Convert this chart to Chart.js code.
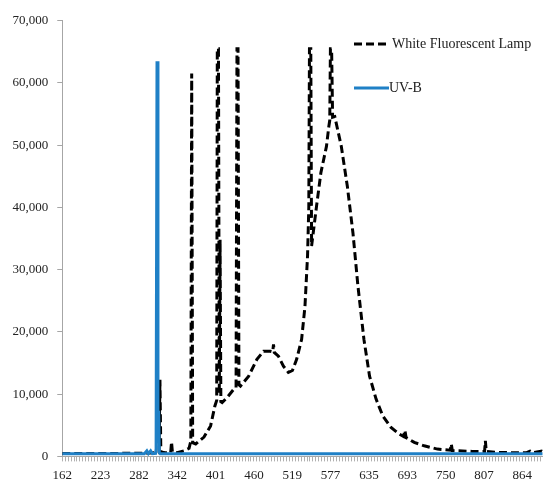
<!DOCTYPE html>
<html>
<head>
<meta charset="utf-8">
<script src="https://cdn.jsdelivr.net/npm/chart.js@4.4.1/dist/chart.umd.min.js"></script>
<style>
  html, body { margin: 0; padding: 0; background: #fff; overflow: hidden; }
  #wrap { width: 546px; height: 489px; }
</style>
</head>
<body>
<div id="wrap"><canvas id="specChart" width="546" height="489"></canvas></div>
<script>
// Spectrum of a white fluorescent lamp and a UV-B lamp (wavelength in nm, counts)

// x axis category labels (wavelength, nm) shown every 13 minor ticks
const xTickLabels = [162, 223, 282, 342, 401, 460, 519, 577, 635, 693, 750, 807, 864];
const MINOR = 13;
const xEndNm = 894.3;

// White Fluorescent Lamp
const lampNm = [162, 290.5, 313.5, 314.9, 316.3, 323.2, 331.7, 333.0, 334.4, 341.8,
  352.5, 360.2, 362.9, 364.2, 365.7, 370.4, 383.1, 393.3, 399.9, 402.7,
  403.6, 405.4, 406.7, 407.9, 409.1, 411.1, 419.8, 429.0, 432.5, 433.9,
  435.5, 436.9, 439.2, 451.9, 464.6, 474.8, 485.1, 488.9, 490.1, 491.3,
  497.7, 505.4, 513.0, 519.2, 525.6, 533.1, 538.2, 542.1, 544.0, 545.0,
  547.0, 548.2, 555.7, 562.3, 570.7, 574.3, 575.7, 576.7, 578.5, 580.0,
  583.3, 593.2, 602.3, 610.8, 618.3, 627.4, 635.9, 645.8, 655.9, 668.4,
  681.0, 687.2, 689.4, 691.2, 693.4, 703.3, 718.1, 737.8, 756.9, 758.4,
  759.9, 767.3, 789.4, 807.9, 809.1, 810.4, 826.3, 848.5, 870.6, 875.5,
  879.5, 892.8, 894.3];
const lampCounts = [450, 500, 600, 12300, 700, 600, 600, 2300, 700, 600,
  900, 1300, 2500, 61500, 2200, 2000, 3100, 4900, 8100, 9000,
  65500, 65500, 10000, 34800, 8800, 8650, 9600, 10800, 11000, 65500,
  65500, 11500, 11300, 12900, 15600, 16900, 16900, 16800, 18000, 16700,
  16100, 14500, 13500, 13800, 15600, 18800, 24100, 32200, 40000, 65500,
  65500, 33800, 40200, 45600, 49800, 53000, 54000, 65500, 65500, 54500,
  54600, 49800, 43400, 35900, 27400, 18800, 12900, 9200, 6500, 4650,
  3580, 3200, 4200, 3000, 2900, 2250, 1700, 1170, 1000, 2000,
  950, 900, 800, 800, 2500, 800, 650, 600, 600, 850,
  600, 850, 700];

// UV-B lamp
const uvbNm = [162, 290.5, 294.4, 296.8, 300.3, 303.0, 308.1, 308.9, 310.3, 311.8, 312.9, 313.9, 315.4, 894.3];
const uvbCounts = [420, 420, 900, 450, 900, 450, 500, 1200, 63500, 7100, 7100, 600, 420, 420];

// place a wavelength on the evenly spaced category axis (minor tick units)
function nmToPos(nm) {
  const n = xTickLabels.length;
  let k = 0;
  while (k < n - 2 && nm > xTickLabels[k + 1]) k++;
  const span = xTickLabels[k + 1] - xTickLabels[k];
  return (k + (nm - xTickLabels[k]) / span) * MINOR;
}

function toPoints(nms, counts) {
  return nms.map((nm, i) => ({ x: nmToPos(nm), y: counts[i] }));
}

const legendPlugin = {
  id: 'cornerLegend',
  afterDraw(chart) {
    const ctx = chart.ctx;
    ctx.save();
    chart.data.datasets.forEach((ds, i) => {
      const y = 44 + i * 44;
      ctx.beginPath();
      ctx.lineWidth = ds.borderWidth;
      ctx.strokeStyle = ds.borderColor;
      ctx.setLineDash(ds.borderDash || []);
      ctx.moveTo(354, y);
      ctx.lineTo(ds.borderDash ? 386 : 389, y);
      ctx.stroke();
      ctx.setLineDash([]);
      ctx.fillStyle = '#222';
      ctx.font = '14px "Liberation Serif", serif';
      ctx.textBaseline = 'middle';
      ctx.fillText(ds.label, ds.borderDash ? 392 : 389, y);
    });
    ctx.restore();
  }
};

const axisColor = '#a6a6a6';
const font = { family: '"Liberation Serif", serif', size: 13 };

new Chart(document.getElementById('specChart'), {
  type: 'line',
  data: {
    datasets: [
      {
        label: 'White Fluorescent Lamp',
        data: toPoints(lampNm, lampCounts),
        borderColor: '#000000',
        borderWidth: 3,
        borderDash: [8, 4],
        pointRadius: 0,
        tension: 0,
        order: 1
      },
      {
        label: 'UV-B',
        data: toPoints(uvbNm, uvbCounts),
        borderColor: 'rgb(31, 128, 198)',
        borderWidth: 3,
        pointRadius: 0,
        tension: 0,
        order: 0
      }
    ]
  },
  options: {
    responsive: false,
    animation: false,
    layout: { padding: { left: 3.5, top: 20.7, right: 0, bottom: 0 } },
    plugins: {
      legend: { display: false },
      tooltip: { enabled: false }
    },
    scales: {
      x: {
        type: 'linear',
        min: 0,
        max: nmToPos(xEndNm),
        border: { color: axisColor, width: 1 },
        grid: { drawOnChartArea: false, tickLength: 5, color: '#b0b0b0' },
        ticks: {
          stepSize: 1,
          autoSkip: false,
          includeBounds: false,
          maxRotation: 0,
          minRotation: 0,
          padding: 6,
          color: '#222',
          font: font,
          callback: (v) => (v % MINOR === 0 ? String(xTickLabels[v / MINOR]) : '')
        }
      },
      y: {
        min: 0,
        max: 70000,
        border: { color: axisColor, width: 1 },
        grid: { drawOnChartArea: false, tickLength: 5, color: axisColor },
        ticks: {
          stepSize: 10000,
          padding: 9,
          color: '#222',
          font: font,
          callback: (v) => v.toLocaleString('en-US')
        }
      }
    }
  },
  plugins: [legendPlugin]
});
</script>
</body>
</html>
